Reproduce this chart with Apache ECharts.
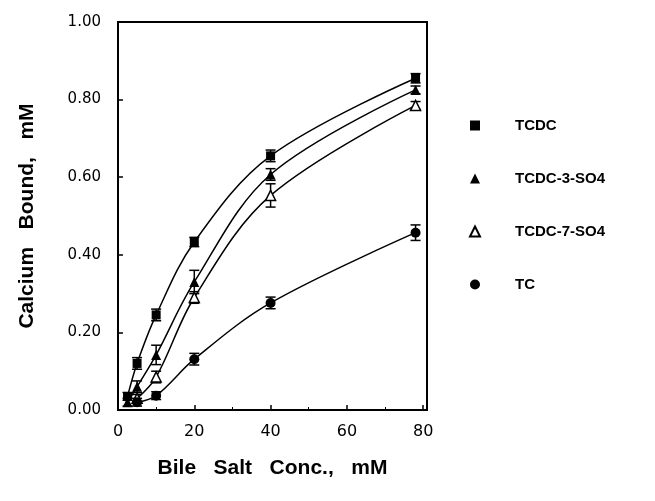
<!DOCTYPE html>
<html><head><meta charset="utf-8">
<script src="https://cdn.jsdelivr.net/npm/echarts@6/dist/echarts.min.js"></script>
<style>html,body{margin:0;padding:0;background:#fff}#c{width:655px;height:501px}</style>
</head><body><div id="c"></div>
<script>
var seriesNames = ['TCDC', 'TCDC-3-SO4', 'TCDC-7-SO4', 'TC'];
var tcdcX = [2.5, 5, 10, 20, 40, 78];
var tcdcY = [0.035, 0.12, 0.245, 0.433, 0.655, 0.855];
var tcdcErr = [0.01, 0.015, 0.015, 0.012, 0.015, 0.012];
var tcdc3X = [2.5, 5, 10, 20, 40, 78];
var tcdc3Y = [0.02, 0.06, 0.142, 0.33, 0.607, 0.825];
var tcdc3Err = [0.01, 0.015, 0.025, 0.03, 0.015, 0.01];
var tcdc7X = [5, 10, 20, 40, 78];
var tcdc7Y = [0.03, 0.085, 0.29, 0.553, 0.785];
var tcdc7Err = [0.01, 0.015, 0.015, 0.03, 0.01];
var tcX = [5, 10, 20, 40, 78];
var tcY = [0.02, 0.037, 0.131, 0.276, 0.457];
var tcErr = [0.01, 0.01, 0.015, 0.015, 0.02];

var chart = echarts.init(document.getElementById('c'), null, {renderer: 'canvas'});
function pts(xs, ys) { return xs.map(function (x, i) { return [x, ys[i]]; }); }
function errPts(xs, ys, es) { return xs.map(function (x, i) { return [x, ys[i] - es[i], ys[i] + es[i]]; }); }
function errSeries(xs, ys, es) {
  return {
    type: 'custom', silent: true, z: 3,
    data: errPts(xs, ys, es),
    renderItem: function (params, api) {
      var lo = api.coord([api.value(0), api.value(1)]);
      var hi = api.coord([api.value(0), api.value(2)]);
      var w = 5;
      var st = {stroke: '#000', lineWidth: 1.5};
      return {type: 'group', children: [
        {type: 'line', shape: {x1: lo[0], y1: lo[1], x2: hi[0], y2: hi[1]}, style: st},
        {type: 'line', shape: {x1: lo[0] - w, y1: lo[1], x2: lo[0] + w, y2: lo[1]}, style: st},
        {type: 'line', shape: {x1: hi[0] - w, y1: hi[1], x2: hi[0] + w, y2: hi[1]}, style: st}
      ]};
    }
  };
}
function lineSeries(name, xs, ys, symbol, fill) {
  return {
    name: name, type: 'line', smooth: 0.35, data: pts(xs, ys),
    symbol: symbol, symbolSize: symbol === 'rect' ? 9 : 10, z: 4,
    lineStyle: {color: '#000', width: 1.5},
    itemStyle: {color: fill, borderColor: '#000', borderWidth: fill === '#fff' ? 1.5 : 0}
  };
}
var bold = 'Liberation Sans, Arial, sans-serif';
chart.setOption({
  animation: false,
  backgroundColor: '#fff',
  grid: {left: 118, top: 22, right: 228, bottom: 91, show: true, borderColor: '#000', borderWidth: 2},
  legend: {
    orient: 'vertical', left: 464, top: 113, itemGap: 38, itemWidth: 10, itemHeight: 10,
    textStyle: {fontFamily: bold, fontWeight: 'bold', fontSize: 15, color: '#000', padding: [0, 0, 0, 30]},
    data: [
      {name: 'TCDC', icon: 'rect'},
      {name: 'TCDC-3-SO4', icon: 'triangle'},
      {name: 'TCDC-7-SO4', icon: 'triangle'},
      {name: 'TC', icon: 'circle'}
    ]
  },
  xAxis: {
    type: 'value', min: 0, max: 81, interval: 20,
    name: 'Bile   Salt   Conc.,   mM', nameLocation: 'middle', nameGap: 48,
    nameTextStyle: {fontFamily: bold, fontWeight: 'bold', fontSize: 21, color: '#000'},
    axisLine: {lineStyle: {color: '#000', width: 2}},
    axisTick: {inside: true, length: 5, lineStyle: {color: '#000', width: 1.5}},
    minorTick: {show: true, splitNumber: 2, length: 3, lineStyle: {color: '#000'}},
    axisLabel: {fontFamily: 'DejaVu Sans', fontSize: 16, color: '#000', margin: 14, showMaxLabel: false},
    splitLine: {show: false}
  },
  yAxis: {
    type: 'value', min: 0, max: 1, interval: 0.2,
    name: 'Calcium   Bound,   mM', nameLocation: 'middle', nameGap: 80, nameRotate: 90,
    nameTextStyle: {fontFamily: bold, fontWeight: 'bold', fontSize: 21, color: '#000'},
    axisLine: {lineStyle: {color: '#000', width: 2}},
    axisTick: {inside: true, length: 5, lineStyle: {color: '#000', width: 1.5}},
    axisLabel: {fontFamily: 'DejaVu Sans', fontSize: 15, color: '#000', margin: 17,
      formatter: function (v) { return v.toFixed(2); }},
    splitLine: {show: false}
  },
  series: [
    lineSeries(seriesNames[0], tcdcX, tcdcY, 'rect', '#000'),
    lineSeries(seriesNames[1], tcdc3X, tcdc3Y, 'triangle', '#000'),
    lineSeries(seriesNames[2], tcdc7X, tcdc7Y, 'triangle', '#fff'),
    lineSeries(seriesNames[3], tcX, tcY, 'circle', '#000'),
    errSeries(tcdcX, tcdcY, tcdcErr),
    errSeries(tcdc3X, tcdc3Y, tcdc3Err),
    errSeries(tcdc7X, tcdc7Y, tcdc7Err),
    errSeries(tcX, tcY, tcErr)
  ]
});
</script></body></html>
